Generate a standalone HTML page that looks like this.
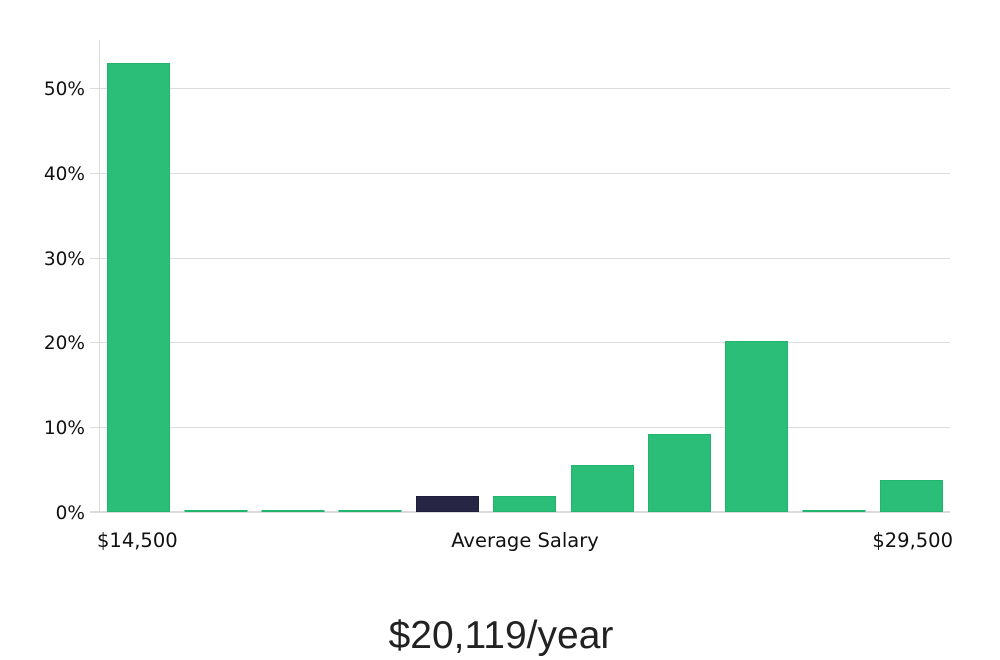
<!DOCTYPE html>
<html><head><meta charset="utf-8"><style>
body{margin:0;background:#fff;}
svg{display:block}
</style></head><body>
<svg width="1000" height="660" xmlns="http://www.w3.org/2000/svg" font-family="DejaVu Sans, Liberation Sans, sans-serif">
<g stroke="#dcdcdc" stroke-width="1">
<line x1="90" y1="88.5" x2="950" y2="88.5"/>
<line x1="90" y1="173.5" x2="950" y2="173.5"/>
<line x1="90" y1="258.5" x2="950" y2="258.5"/>
<line x1="90" y1="342.5" x2="950" y2="342.5"/>
<line x1="90" y1="427.5" x2="950" y2="427.5"/>
<line x1="99.5" y1="40" x2="99.5" y2="512"/>
</g>
<line x1="90" y1="512" x2="950" y2="512" stroke="#cfcfcf" stroke-width="1.5"/>
<g font-size="18.5" fill="#111" text-anchor="end">
<text x="85" y="95">50%</text>
<text x="85" y="180">40%</text>
<text x="85" y="265">30%</text>
<text x="85" y="349">20%</text>
<text x="85" y="434">10%</text>
<text x="85" y="519">0%</text>
</g>
<g fill="#2abe78" stroke="#22b56e" stroke-width="1">
<rect x="107.5" y="63.5" width="62" height="448"/>
<rect x="185" y="510.5" width="62" height="1"/>
<rect x="262" y="510.5" width="62" height="1"/>
<rect x="339" y="510.5" width="62" height="1"/>
<rect x="493.5" y="496.5" width="62" height="15"/>
<rect x="571.5" y="465.5" width="62" height="46"/>
<rect x="648.5" y="434.5" width="62" height="77"/>
<rect x="725.5" y="341.5" width="62" height="170"/>
<rect x="803" y="510.5" width="62" height="1"/>
<rect x="880.5" y="480.5" width="62" height="31"/>
</g>
<rect x="416.5" y="496.5" width="62" height="15" fill="#262544" stroke="#1e1d3a"/>
<g font-size="19.5" fill="#111">
<text x="97" y="547">$14,500</text>
<text x="525" y="547" text-anchor="middle">Average Salary</text>
<text x="953" y="547" text-anchor="end">$29,500</text>
</g>
<text x="501" y="648" text-anchor="middle" font-size="39" font-family="Liberation Sans, sans-serif" fill="#222" font-weight="300">$20,119/year</text>
</svg>
</body></html>
